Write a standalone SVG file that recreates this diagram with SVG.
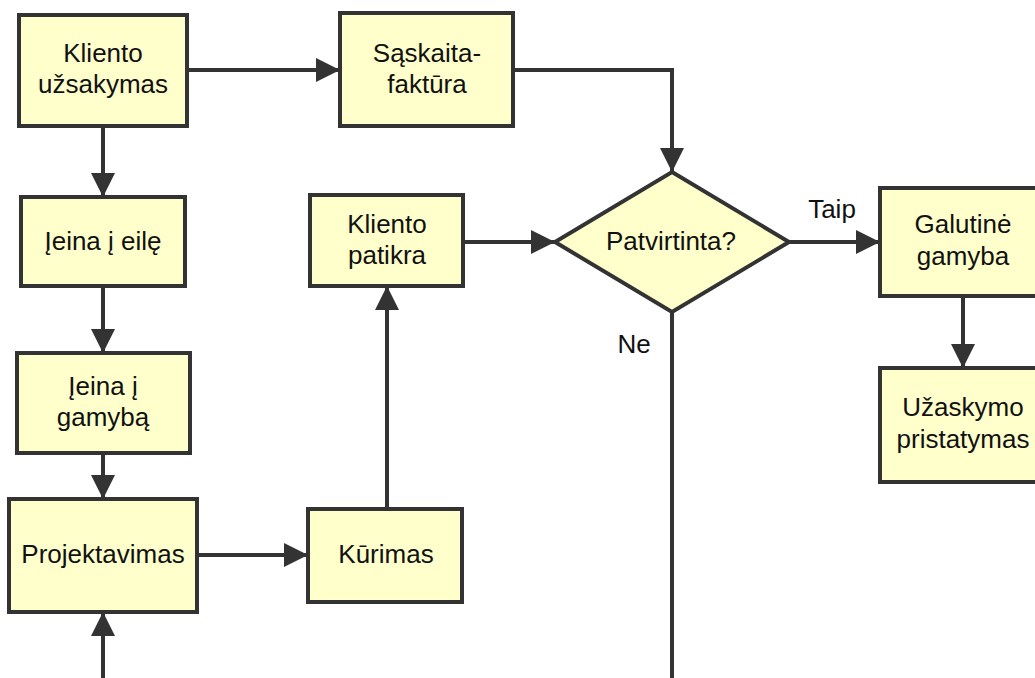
<svg xmlns="http://www.w3.org/2000/svg" width="1035" height="678" viewBox="0 0 1035 678">
  <style>
    .box { fill: #ffffcc; stroke: #333333; stroke-width: 4; }
    .lbl { font-family: "Liberation Sans", Arial, sans-serif; font-size: 26px; fill: #111111; text-anchor: middle; }
    .edge { fill: none; stroke: #333333; stroke-width: 4; }
    .arrow { marker-end: url(#head); }
  </style>
  <defs>
    <marker id="head" markerUnits="userSpaceOnUse" viewBox="0 0 24 24" refX="24" refY="12" markerWidth="24" markerHeight="24" orient="auto">
      <path d="M0,0 L24,12 L0,24 z" fill="#333333"/>
    </marker>
  </defs>
  <rect width="1035" height="678" fill="#ffffff"/>

  <g id="connectors">
    <path class="edge arrow" d="M187,70 H340"/>
    <path class="edge arrow" d="M103,126 V197"/>
    <path class="edge arrow" d="M103,286 V353"/>
    <path class="edge arrow" d="M103,453 V499"/>
    <path class="edge arrow" d="M103,678 V612"/>
    <path class="edge arrow" d="M197,555 H308"/>
    <path class="edge arrow" d="M387,509 V286"/>
    <path class="edge arrow" d="M463,242 H555"/>
    <path class="edge arrow" d="M513,70 H672 V172"/>
    <path class="edge arrow" d="M789,242 H880"/>
    <path class="edge arrow" d="M963,296 V368"/>
    <path class="edge" d="M672,312 V678"/>
    <text class="lbl" x="832" y="218">Taip</text>
    <text class="lbl" x="634" y="353">Ne</text>
  </g>

  <g id="order">
    <rect class="box" x="19" y="15" width="168" height="111"/>
    <text class="lbl" x="103" y="62">Kliento</text>
    <text class="lbl" x="103" y="93">užsakymas</text>
  </g>

  <g id="invoice">
    <rect class="box" x="340" y="13" width="173" height="113"/>
    <text class="lbl" x="427" y="62">Sąskaita-</text>
    <text class="lbl" x="427" y="93">faktūra</text>
  </g>

  <g id="queue">
    <rect class="box" x="21" y="197" width="164" height="89"/>
    <text class="lbl" x="103" y="250">Įeina į eilę</text>
  </g>

  <g id="production">
    <rect class="box" x="17" y="353" width="173" height="100"/>
    <text class="lbl" x="103" y="395">Įeina į</text>
    <text class="lbl" x="103" y="426">gamybą</text>
  </g>

  <g id="design">
    <rect class="box" x="9" y="499" width="188" height="113"/>
    <text class="lbl" x="103" y="563">Projektavimas</text>
  </g>

  <g id="build">
    <rect class="box" x="308" y="509" width="154" height="93"/>
    <text class="lbl" x="386" y="563">Kūrimas</text>
  </g>

  <g id="review">
    <rect class="box" x="310" y="195" width="153" height="91"/>
    <text class="lbl" x="387" y="233">Kliento</text>
    <text class="lbl" x="387" y="264">patikra</text>
  </g>

  <g id="approved">
    <polygon class="box" points="672,172 789,242 672,312 555,242"/>
    <text class="lbl" x="671" y="250">Patvirtinta?</text>
  </g>

  <g id="final">
    <rect class="box" x="880" y="188" width="166" height="108"/>
    <text class="lbl" x="963" y="233">Galutinė</text>
    <text class="lbl" x="963" y="265">gamyba</text>
  </g>

  <g id="delivery">
    <rect class="box" x="880" y="368" width="166" height="114"/>
    <text class="lbl" x="963" y="416">Užaskymo</text>
    <text class="lbl" x="963" y="448">pristatymas</text>
  </g>
</svg>
